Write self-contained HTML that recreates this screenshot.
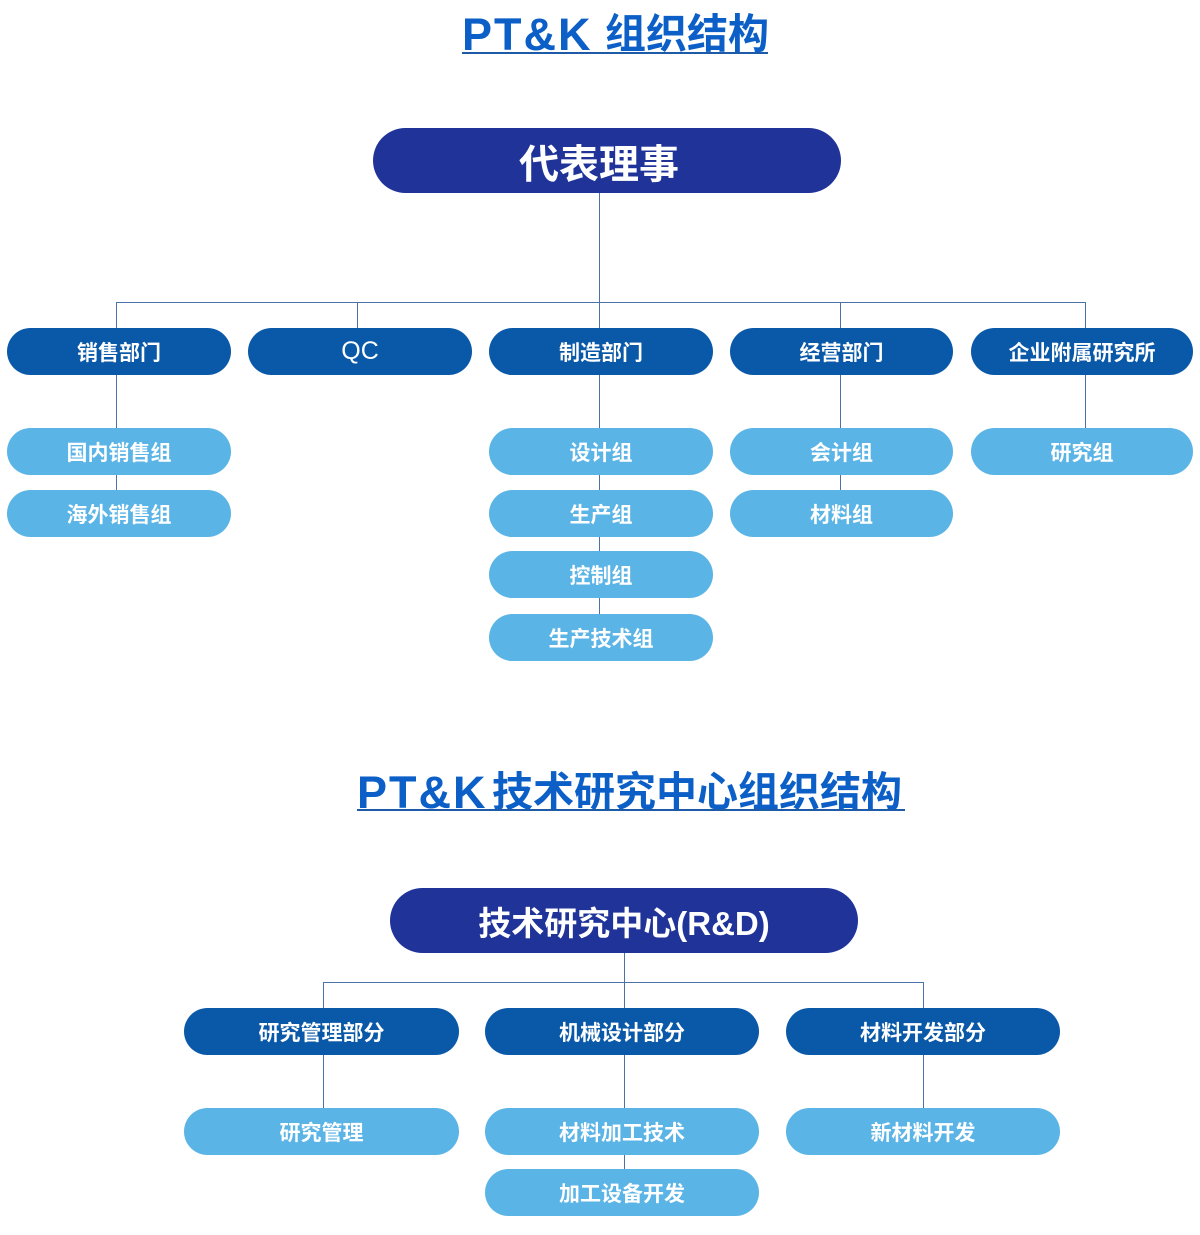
<!DOCTYPE html>
<html><head><meta charset="utf-8">
<style>
*{margin:0;padding:0;box-sizing:border-box}
html,body{width:1200px;height:1235px;background:#fff;overflow:hidden}
body{position:relative;font-family:"Liberation Sans","Noto Sans CJK SC",sans-serif}
.t{position:absolute;white-space:nowrap;color:#0b5fc6;font-weight:700;line-height:1}
.lat{font-family:"Liberation Sans",sans-serif;font-size:45px;letter-spacing:2px}
.cjk{font-family:"Noto Sans CJK SC",sans-serif;font-size:41px}
.ul{position:absolute;height:2px;background:#1d5aa8}
.b{position:absolute;display:flex;align-items:center;justify-content:center;color:#fff;font-weight:700;font-family:"Liberation Sans","Noto Sans CJK SC",sans-serif;white-space:nowrap}
.top{background:#1f3399;border-radius:33px;height:65px}
.d{background:#0a58a8;border-radius:24px;height:47px;font-size:21px}
.s{background:#5bb4e6;border-radius:24px;height:47px;font-size:21px}
.v{position:absolute;width:1px;background:#4a72a8}
.h{position:absolute;height:1px;background:#4a72a8}
</style></head><body>

<!-- Title 1 -->
<div class="t" style="left:462px;top:12px;"><span class="lat">PT&amp;K</span></div>
<div class="t" style="left:605px;top:10px;"><span class="cjk">组织结构</span></div>
<div class="ul" style="left:462px;top:52px;width:306px;"></div>

<!-- connectors top -->
<div class="v" style="left:599px;top:192px;height:110px;"></div>
<div class="h" style="left:116px;top:302px;width:970px;"></div>
<div class="v" style="left:116px;top:302px;height:230px;"></div>
<div class="v" style="left:357px;top:302px;height:30px;"></div>
<div class="v" style="left:599px;top:302px;height:320px;"></div>
<div class="v" style="left:840px;top:302px;height:195px;"></div>
<div class="v" style="left:1085px;top:302px;height:130px;"></div>

<div class="b top" style="left:373px;top:128px;width:468px;font-size:40px;padding-right:16px;">代表理事</div>

<div class="b d" style="left:7px;top:328px;width:224px;">销售部门</div>
<div class="b d" style="left:248px;top:328px;width:224px;font-weight:400;font-size:25px;">QC</div>
<div class="b d" style="left:489px;top:328px;width:224px;">制造部门</div>
<div class="b d" style="left:730px;top:328px;width:223px;">经营部门</div>
<div class="b d" style="left:971px;top:328px;width:222px;">企业附属研究所</div>

<div class="b s" style="left:7px;top:428px;width:224px;">国内销售组</div>
<div class="b s" style="left:7px;top:490px;width:224px;">海外销售组</div>

<div class="b s" style="left:489px;top:428px;width:224px;">设计组</div>
<div class="b s" style="left:489px;top:490px;width:224px;">生产组</div>
<div class="b s" style="left:489px;top:551px;width:224px;">控制组</div>
<div class="b s" style="left:489px;top:614px;width:224px;">生产技术组</div>

<div class="b s" style="left:730px;top:428px;width:223px;">会计组</div>
<div class="b s" style="left:730px;top:490px;width:223px;">材料组</div>

<div class="b s" style="left:971px;top:428px;width:222px;">研究组</div>

<!-- Title 2 -->
<div class="t" style="left:357px;top:770px;"><span class="lat">PT&amp;K</span></div>
<div class="t" style="left:492px;top:768px;"><span class="cjk">技术研究中心组织结构</span></div>
<div class="ul" style="left:357px;top:809px;width:548px;"></div>

<!-- connectors bottom -->
<div class="v" style="left:624px;top:952px;height:30px;"></div>
<div class="h" style="left:323px;top:982px;width:601px;"></div>
<div class="v" style="left:323px;top:982px;height:130px;"></div>
<div class="v" style="left:624px;top:982px;height:190px;"></div>
<div class="v" style="left:923px;top:982px;height:130px;"></div>

<div class="b top" style="left:390px;top:888px;width:468px;font-size:33px;">技术研究中心(R&amp;D)</div>

<div class="b d" style="left:184px;top:1008px;width:275px;">研究管理部分</div>
<div class="b d" style="left:485px;top:1008px;width:274px;">机械设计部分</div>
<div class="b d" style="left:786px;top:1008px;width:274px;">材料开发部分</div>

<div class="b s" style="left:184px;top:1108px;width:275px;">研究管理</div>
<div class="b s" style="left:485px;top:1108px;width:274px;">材料加工技术</div>
<div class="b s" style="left:485px;top:1169px;width:274px;">加工设备开发</div>
<div class="b s" style="left:786px;top:1108px;width:274px;">新材料开发</div>

</body></html>
